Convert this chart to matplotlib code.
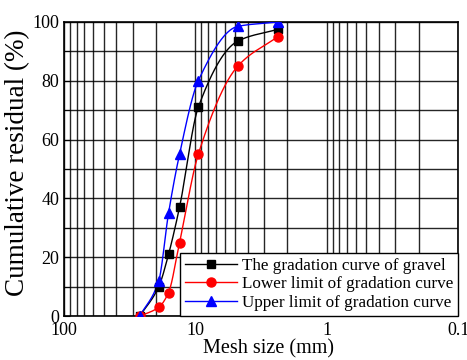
import numpy as np
import matplotlib

matplotlib.use("Agg")
import matplotlib.pyplot as plt
from matplotlib.ticker import LogLocator, FixedLocator, NullFormatter

# sieve sizes (mm) and cumulative residual (%)
mesh = [26.5, 19, 16, 13.2, 9.5, 4.75, 2.36]
gravel = [0, 10, 21, 37, 71, 93.5, 97.5]
lower = [0, 3, 8, 25, 55, 85, 95]
upper = [0, 12, 35, 55, 80, 98.5, 100]

labels = [
    "The gradation curve of gravel",
    "Lower limit of gradation curve",
    "Upper limit of gradation curve",
]
colors = ["black", "red", "blue"]
markers = ["s", "o", "^"]
msizes = [5.5, 6.5, 7]


def smooth(x, y, n=200):
    """Monotone cubic (Fritsch-Carlson) through the points, in log-x."""
    lx = np.log10(np.asarray(x, float))[::-1]
    yy = np.asarray(y, float)[::-1]
    h = np.diff(lx)
    d = np.diff(yy) / h
    m = np.zeros_like(yy)
    m[0], m[-1] = d[0], d[-1]
    for i in range(1, len(yy) - 1):
        if d[i - 1] * d[i] <= 0:
            m[i] = 0
        else:
            w1 = 2 * h[i] + h[i - 1]
            w2 = h[i] + 2 * h[i - 1]
            m[i] = (w1 + w2) / (w1 / d[i - 1] + w2 / d[i])
    xs = np.linspace(lx[0], lx[-1], n)
    ys = np.empty_like(xs)
    for k, xv in enumerate(xs):
        i = min(np.searchsorted(lx, xv) - 1, len(h) - 1)
        i = max(i, 0)
        t = (xv - lx[i]) / h[i]
        h00 = 2 * t**3 - 3 * t**2 + 1
        h10 = t**3 - 2 * t**2 + t
        h01 = -2 * t**3 + 3 * t**2
        h11 = t**3 - t**2
        ys[k] = h00 * yy[i] + h10 * h[i] * m[i] + h01 * yy[i + 1] + h11 * h[i] * m[i + 1]
    return 10**xs, ys


plt.rcParams["font.family"] = ["Liberation Serif", "DejaVu Serif"]

fig = plt.figure(figsize=(4.67, 3.6), dpi=100)
ax = fig.add_axes([0.137, 0.122, 0.844, 0.817])

for ys, c, mk, ms, lab in zip([gravel, lower, upper], colors, markers, msizes, labels):
    sx, sy = smooth(mesh, ys)
    ax.plot(sx, sy, color=c, lw=1, zorder=3)
    ax.plot(mesh, ys, linestyle="none", marker=mk, ms=ms, color=c, zorder=4)
    ax.plot([], [], color=c, lw=1, marker=mk, ms=ms, label=lab)

ax.set_xscale("log")
ax.set_xlim(100, 0.1)
ax.set_ylim(0, 100)
ax.xaxis.set_major_locator(FixedLocator([100, 10, 1, 0.1]))
ax.set_xticklabels(["100", "10", "1", "0.1"])
ax.xaxis.set_minor_locator(LogLocator(base=10, subs=np.arange(2, 10)))
ax.xaxis.set_minor_formatter(NullFormatter())
ax.set_yticks(np.arange(0, 101, 20))
ax.set_yticks(np.arange(10, 100, 20), minor=True)

ax.grid(True, which="both", color="black", lw=1, alpha=0.85, zorder=0)
ax.set_axisbelow(True)
ax.tick_params(which="both", direction="in", labelsize=13, length=4)
ax.tick_params(axis="x", which="minor", length=0)
ax.tick_params(axis="x", pad=4)
for s in ax.spines.values():
    s.set_linewidth(1.2)

ax.set_xlabel("Mesh size (mm)", fontsize=14.5)
ax.xaxis.set_label_coords(0.52, -0.08)
ax.set_ylabel("Cumulative residual (%)", fontsize=19.5)
ax.yaxis.set_label_coords(-0.085, 0.52)

leg = ax.legend(
    loc="lower right",
    fontsize=12.3,
    frameon=True,
    fancybox=False,
    edgecolor="black",
    framealpha=1,
    borderaxespad=0,
    handlelength=3,
    handletextpad=0.3,
    labelspacing=0.15,
    borderpad=0.3,
)
leg.get_frame().set_linewidth(1)

fig.savefig("out.png", dpi=100)
